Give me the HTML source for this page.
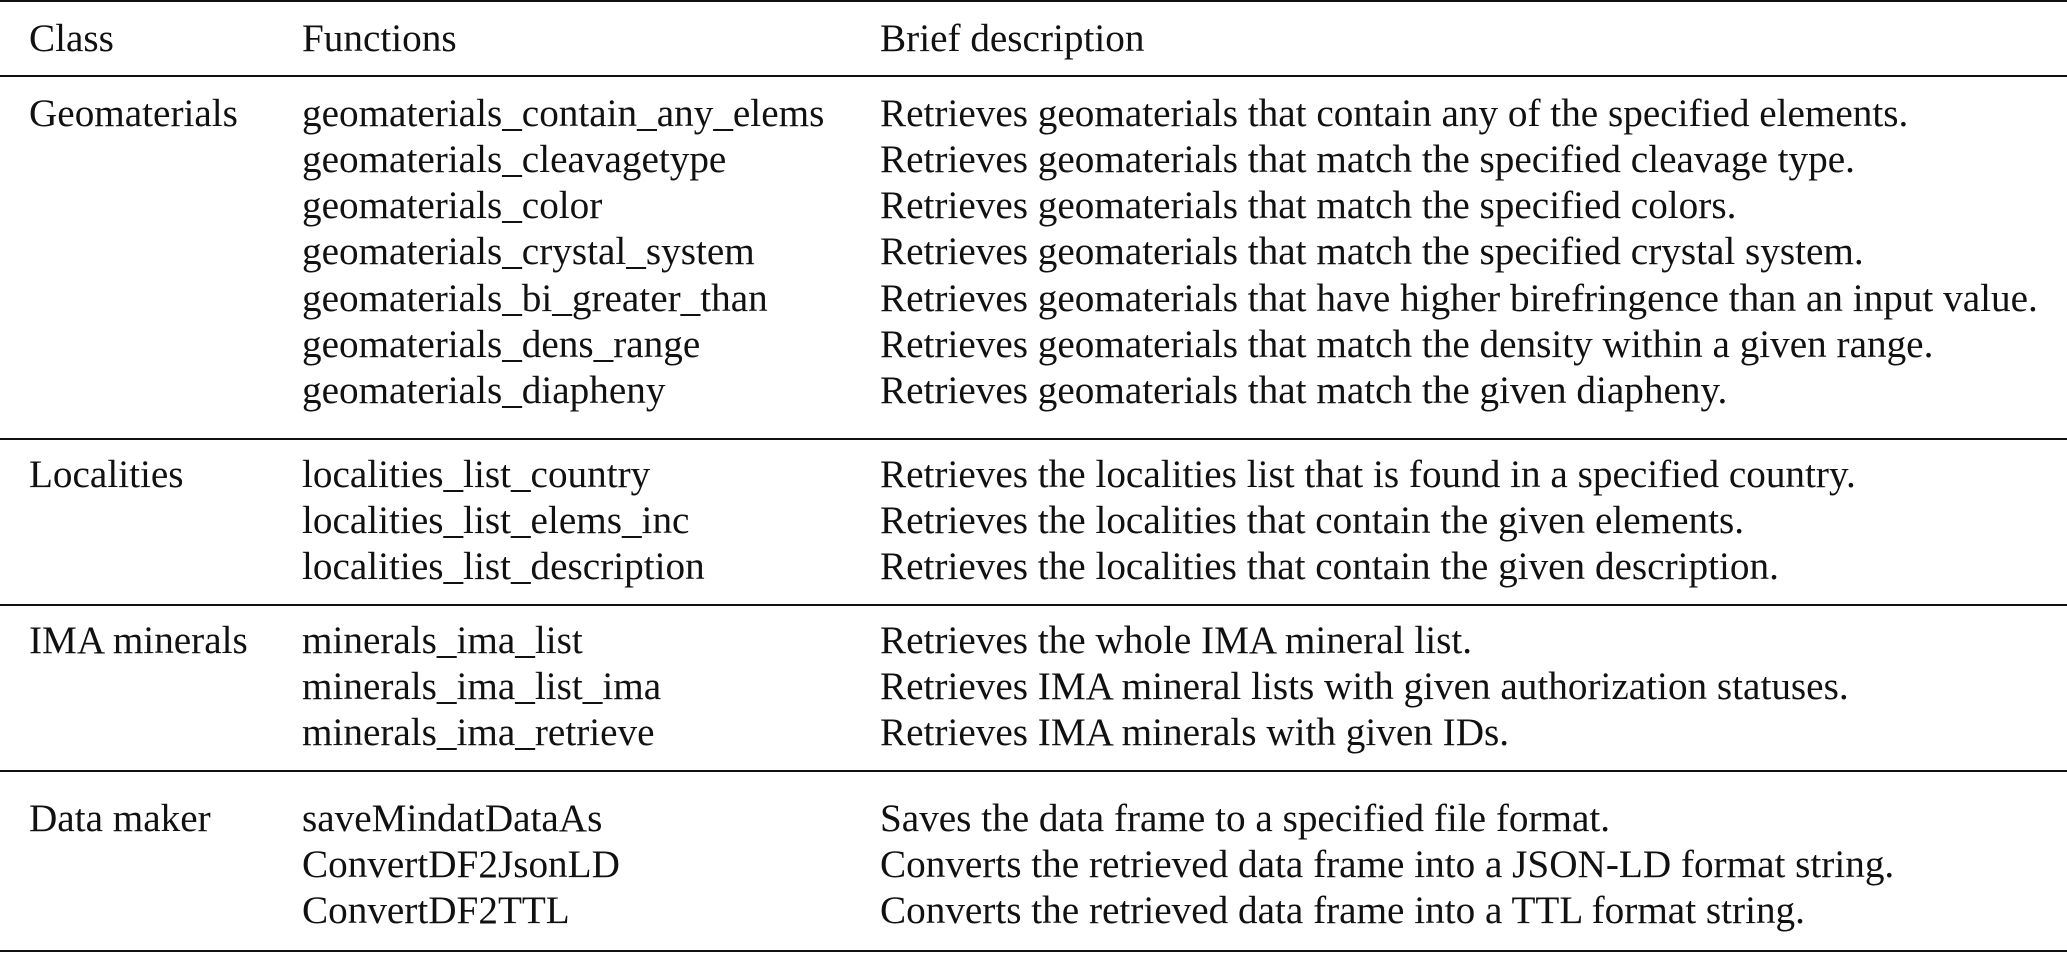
<!DOCTYPE html>
<html><head><meta charset="utf-8"><style>
html,body{margin:0;padding:0;background:#fff;}
body{width:2067px;height:955px;position:relative;overflow:hidden;font-family:"Liberation Serif",serif;font-size:39.2px;color:#111;}
.l{position:absolute;left:0;width:2067px;background:#111;}
.t{position:absolute;white-space:nowrap;line-height:44px;transform:translateY(-20px);}
</style></head><body>
<div class="l" style="top:0;height:2px"></div>
<div class="l" style="top:75px;height:2px"></div>
<div class="l" style="top:438px;height:2px"></div>
<div class="l" style="top:604px;height:2px"></div>
<div class="l" style="top:770px;height:2px"></div>
<div class="l" style="top:950px;height:2px"></div>

<div class="t" style="left:29px;top:37px">Class</div>
<div class="t" style="left:302px;top:37px">Functions</div>
<div class="t" style="left:880px;top:37px">Brief description</div>

<div class="t" style="left:29px;top:112px">Geomaterials</div>
<div class="t" style="left:302px;top:112px">geomaterials_contain_any_elems</div>
<div class="t" style="left:880px;top:112px">Retrieves geomaterials that contain any of the specified elements.</div>
<div class="t" style="left:302px;top:158px">geomaterials_cleavagetype</div>
<div class="t" style="left:880px;top:158px">Retrieves geomaterials that match the specified cleavage type.</div>
<div class="t" style="left:302px;top:204px">geomaterials_color</div>
<div class="t" style="left:880px;top:204px">Retrieves geomaterials that match the specified colors.</div>
<div class="t" style="left:302px;top:250px">geomaterials_crystal_system</div>
<div class="t" style="left:880px;top:250px">Retrieves geomaterials that match the specified crystal system.</div>
<div class="t" style="left:302px;top:297px">geomaterials_bi_greater_than</div>
<div class="t" style="left:880px;top:297px">Retrieves geomaterials that have higher birefringence than an input value.</div>
<div class="t" style="left:302px;top:343px">geomaterials_dens_range</div>
<div class="t" style="left:880px;top:343px">Retrieves geomaterials that match the density within a given range.</div>
<div class="t" style="left:302px;top:389px">geomaterials_diapheny</div>
<div class="t" style="left:880px;top:389px">Retrieves geomaterials that match the given diapheny.</div>

<div class="t" style="left:29px;top:473px">Localities</div>
<div class="t" style="left:302px;top:473px">localities_list_country</div>
<div class="t" style="left:880px;top:473px">Retrieves the localities list that is found in a specified country.</div>
<div class="t" style="left:302px;top:519px">localities_list_elems_inc</div>
<div class="t" style="left:880px;top:519px">Retrieves the localities that contain the given elements.</div>
<div class="t" style="left:302px;top:565px">localities_list_description</div>
<div class="t" style="left:880px;top:565px">Retrieves the localities that contain the given description.</div>

<div class="t" style="left:29px;top:639px">IMA minerals</div>
<div class="t" style="left:302px;top:639px">minerals_ima_list</div>
<div class="t" style="left:880px;top:639px">Retrieves the whole IMA mineral list.</div>
<div class="t" style="left:302px;top:685px">minerals_ima_list_ima</div>
<div class="t" style="left:880px;top:685px">Retrieves IMA mineral lists with given authorization statuses.</div>
<div class="t" style="left:302px;top:731px">minerals_ima_retrieve</div>
<div class="t" style="left:880px;top:731px">Retrieves IMA minerals with given IDs.</div>

<div class="t" style="left:29px;top:817px">Data maker</div>
<div class="t" style="left:302px;top:817px">saveMindatDataAs</div>
<div class="t" style="left:880px;top:817px">Saves the data frame to a specified file format.</div>
<div class="t" style="left:302px;top:863px">ConvertDF2JsonLD</div>
<div class="t" style="left:880px;top:863px">Converts the retrieved data frame into a JSON-LD format string.</div>
<div class="t" style="left:302px;top:909px">ConvertDF2TTL</div>
<div class="t" style="left:880px;top:909px">Converts the retrieved data frame into a TTL format string.</div>
</body></html>
